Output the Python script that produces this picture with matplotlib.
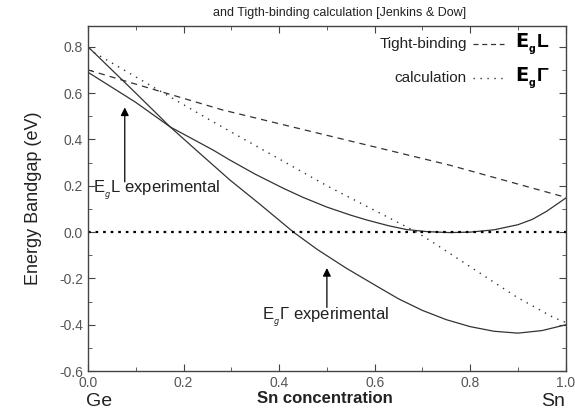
import matplotlib.pyplot as plt
from matplotlib.ticker import MultipleLocator

plt.rcParams['font.family'] = ['Liberation Sans', 'DejaVu Sans']

# experimental E_g L (solid)
expL_x = [0.0, 0.05, 0.10, 0.172, 0.262, 0.297, 0.35, 0.408, 0.45, 0.50, 0.55, 0.584,
          0.63, 0.667, 0.71, 0.757, 0.80, 0.85, 0.90, 0.93, 0.96, 1.0]
expL_y = [0.69, 0.625, 0.56, 0.454, 0.354, 0.311, 0.25, 0.19, 0.15, 0.108, 0.073, 0.052,
          0.027, 0.011, 0.002, -0.002, 0.0, 0.01, 0.032, 0.055, 0.09, 0.147]

# experimental E_g Gamma (solid)
expG_x = [0.0, 0.05, 0.10, 0.172, 0.234, 0.297, 0.36, 0.43, 0.48, 0.54, 0.60, 0.65,
          0.70, 0.75, 0.80, 0.85, 0.90, 0.95, 1.0]
expG_y = [0.80, 0.70, 0.60, 0.454, 0.340, 0.225, 0.12, 0.0, -0.075, -0.155, -0.228, -0.288,
          -0.338, -0.378, -0.408, -0.428, -0.436, -0.425, -0.40]

# tight-binding E_g L (dashed)
tbL_x = [0.0, 0.282, 0.757, 1.0]
tbL_y = [0.70, 0.527, 0.289, 0.15]

# tight-binding E_g Gamma (dotted)
tbG_x = [0.0, 0.255, 0.50, 0.688, 0.73, 0.778, 0.856, 0.897, 0.973, 1.0]
tbG_y = [0.79, 0.484, 0.20, 0.0, -0.055, -0.12, -0.225, -0.28, -0.367, -0.39]

line_col = '#333333'

fig = plt.figure(figsize=(5.75, 4.11), dpi=100)
ax = fig.add_axes([0.153, 0.097, 0.831, 0.840])

ax.plot(expL_x, expL_y, color=line_col, lw=0.9)
ax.plot(expG_x, expG_y, color=line_col, lw=0.9)
ax.plot(tbL_x, tbL_y, color=line_col, lw=0.9, ls=(0, (5, 4)))
ax.plot(tbG_x, tbG_y, color=line_col, lw=1.0, ls=(0, (1, 4)))
ax.plot([0, 1], [0, 0], color='black', lw=1.6, ls=(0, (1.2, 2.2)))

ax.set_xlim(0, 1.0)
ax.set_ylim(-0.6, 0.89)
ax.xaxis.set_major_locator(MultipleLocator(0.2))
ax.xaxis.set_minor_locator(MultipleLocator(0.1))
ax.yaxis.set_major_locator(MultipleLocator(0.2))
ax.yaxis.set_minor_locator(MultipleLocator(0.1))
ax.tick_params(which='both', direction='in', top=True, right=True,
               labelsize=10, labelcolor='#555555', color='#444444')
ax.tick_params(which='major', length=5)
ax.tick_params(which='minor', length=3)
ax.xaxis.set_major_formatter(plt.FuncFormatter(lambda v, p: f'{v:.1f}'))
ax.yaxis.set_major_formatter(plt.FuncFormatter(lambda v, p: f'{v:.1f}'))
for s in ax.spines.values():
    s.set_color('#444444')
    s.set_linewidth(1.0)

ax.set_ylabel('Energy Bandgap (eV)', fontsize=13, color='#222222', labelpad=12)
fig.text(0.565, 0.030, 'Sn concentration', fontsize=12, fontweight='bold',
         ha='center', va='center', color='#222222')
fig.text(0.173, 0.003, 'Ge', fontsize=14, ha='center', va='bottom', color='#222222')
fig.text(0.962, 0.003, 'Sn', fontsize=14, ha='center', va='bottom', color='#222222')
fig.text(0.59, 0.968, 'and Tigth-binding calculation [Jenkins & Dow]', fontsize=9,
         ha='center', va='center', color='#222222')

# legend-like labels
ax.text(0.793, 0.81, 'Tight-binding', fontsize=11, ha='right', va='center', color='#222222')
ax.plot([0.805, 0.87], [0.81, 0.81], color=line_col, lw=0.9, ls=(0, (4, 3)))
ax.text(0.893, 0.81, r'$\mathbf{E}_{_\mathbf{g}}$L', fontsize=14, fontweight='bold',
        ha='left', va='center')
ax.text(0.793, 0.665, 'calculation', fontsize=11, ha='right', va='center', color='#222222')
ax.plot([0.805, 0.87], [0.665, 0.665], color=line_col, lw=1.0, ls=(0, (1, 4)))
ax.text(0.893, 0.665, r'$\mathbf{E}_{_\mathbf{g}}$Γ', fontsize=14, fontweight='bold',
        ha='left', va='center')

# annotations
ax.annotate('', xy=(0.077, 0.55), xytext=(0.077, 0.205),
            arrowprops=dict(arrowstyle='-|>', color='black', lw=0.9, mutation_scale=12))
ax.text(0.01, 0.18, r'E$_{_g}$L experimental', fontsize=12, ha='left', va='center',
        color='#222222')
ax.annotate('', xy=(0.50, -0.143), xytext=(0.50, -0.337),
            arrowprops=dict(arrowstyle='-|>', color='black', lw=0.9, mutation_scale=12))
ax.text(0.364, -0.37, 'E$_{_g}$Γ experimental', fontsize=12, ha='left', va='center',
        color='#222222')

fig.savefig('out.png', dpi=100)
